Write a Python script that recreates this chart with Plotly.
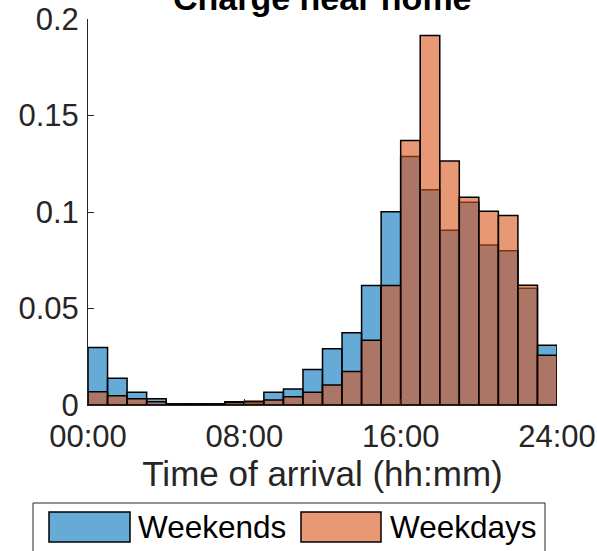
import plotly.graph_objects as go

# ---- data (hourly bins, probability) ----
bin_centers = [h + 0.5 for h in range(24)]
weekends = [0.0298, 0.0138, 0.0066, 0.0033, 0.0006, 0.0006, 0.0006, 0.0017,
            0.0012, 0.0066, 0.0083, 0.0184, 0.0291, 0.0374, 0.0619, 0.1001,
            0.1287, 0.1115, 0.0906, 0.1051, 0.0829, 0.0799, 0.0605, 0.0310]
weekdays = [0.0069, 0.0048, 0.0033, 0.0017, 0.0003, 0.0003, 0.0003, 0.0013,
            0.0020, 0.0026, 0.0043, 0.0066, 0.0103, 0.0174, 0.0336, 0.0619,
            0.1370, 0.1914, 0.1264, 0.1077, 0.1004, 0.0982, 0.0620, 0.0258]
x_tick_vals = [0, 8, 16, 24]
x_tick_text = ["00:00", "08:00", "16:00", "24:00"]
y_tick_vals = [0, 0.05, 0.1, 0.15, 0.2]
y_tick_text = ["0", "0.05", "0.1", "0.15", "0.2"]
series_names = ["Weekends", "Weekdays"]

BLUE = "rgba(0,114,189,0.6)"
ORANGE = "rgba(217,83,25,0.6)"
BLUE_SW = "#66AAD7"
ORANGE_SW = "#E89875"
FONT = "Liberation Sans, Arial, Helvetica, sans-serif"
AX = "#262626"

W, H = 597, 551
L, R, T, B = 88, 40, 19, 146
PW, PH = W - L - R, H - T - B

def px(xp):
    return (xp - L) / PW

def py(yp):
    return (H - B - yp) / PH

fig = go.Figure()
for vals, col, name in [(weekends, BLUE, series_names[0]), (weekdays, ORANGE, series_names[1])]:
    fig.add_trace(go.Bar(
        x=bin_centers, y=vals, width=1, name=name,
        marker=dict(color=col, line=dict(color="black", width=1.5)),
        showlegend=False,
    ))

fig.update_layout(
    width=W, height=H,
    margin=dict(l=L, r=R, t=T, b=B, autoexpand=False),
    barmode="overlay",
    plot_bgcolor="white", paper_bgcolor="white",
    font=dict(family=FONT, color=AX),
)
fig.update_xaxes(
    range=[0, 24], tickvals=x_tick_vals, ticktext=x_tick_text, automargin=False,
    ticks="inside", ticklen=6, tickcolor=AX, showline=True, linecolor=AX, linewidth=1,
    showgrid=False, zeroline=False, tickfont=dict(size=31, color=AX),
    ticklabelstandoff=4, ticklabeloverflow="allow",
    title=dict(text="Time of arrival (hh:mm)", font=dict(size=35, color=AX), standoff=6),
)
fig.update_yaxes(
    range=[0, 0.2], tickvals=y_tick_vals, ticktext=y_tick_text, automargin=False,
    ticks="inside", ticklen=6, tickcolor=AX, showline=True, linecolor=AX, linewidth=1,
    showgrid=False, zeroline=False, tickfont=dict(size=31, color=AX),
    ticklabelstandoff=2, ticklabeloverflow="allow",
)

# title (partially cut off at the top)
fig.add_annotation(
    text="<b>Charge near home</b>", x=0.5, y=1, xref="paper", yref="paper",
    xanchor="center", yanchor="bottom", yshift=0, showarrow=False,
    font=dict(size=34, color="black", family=FONT),
)

# manual legend (MATLAB style, cut off at the bottom)
shapes = []
shapes.append(dict(type="rect", xref="paper", yref="paper",
                   x0=px(33), x1=px(545), y0=py(503), y1=py(570),
                   line=dict(color=AX, width=1), fillcolor="white", layer="above"))
for x0, x1, col in [(49, 130, BLUE_SW), (301, 381, ORANGE_SW)]:
    shapes.append(dict(type="rect", xref="paper", yref="paper",
                       x0=px(x0), x1=px(x1), y0=py(512), y1=py(542),
                       line=dict(color="black", width=1.5), fillcolor=col, layer="above"))
fig.update_layout(shapes=shapes)
for xl, name in [(136, series_names[0]), (388, series_names[1])]:
    fig.add_annotation(
        text=name, x=px(xl), y=py(527), xref="paper", yref="paper",
        xanchor="left", yanchor="middle", showarrow=False,
        font=dict(size=31.5, color="black", family=FONT),
    )

fig.write_html("out.html")
